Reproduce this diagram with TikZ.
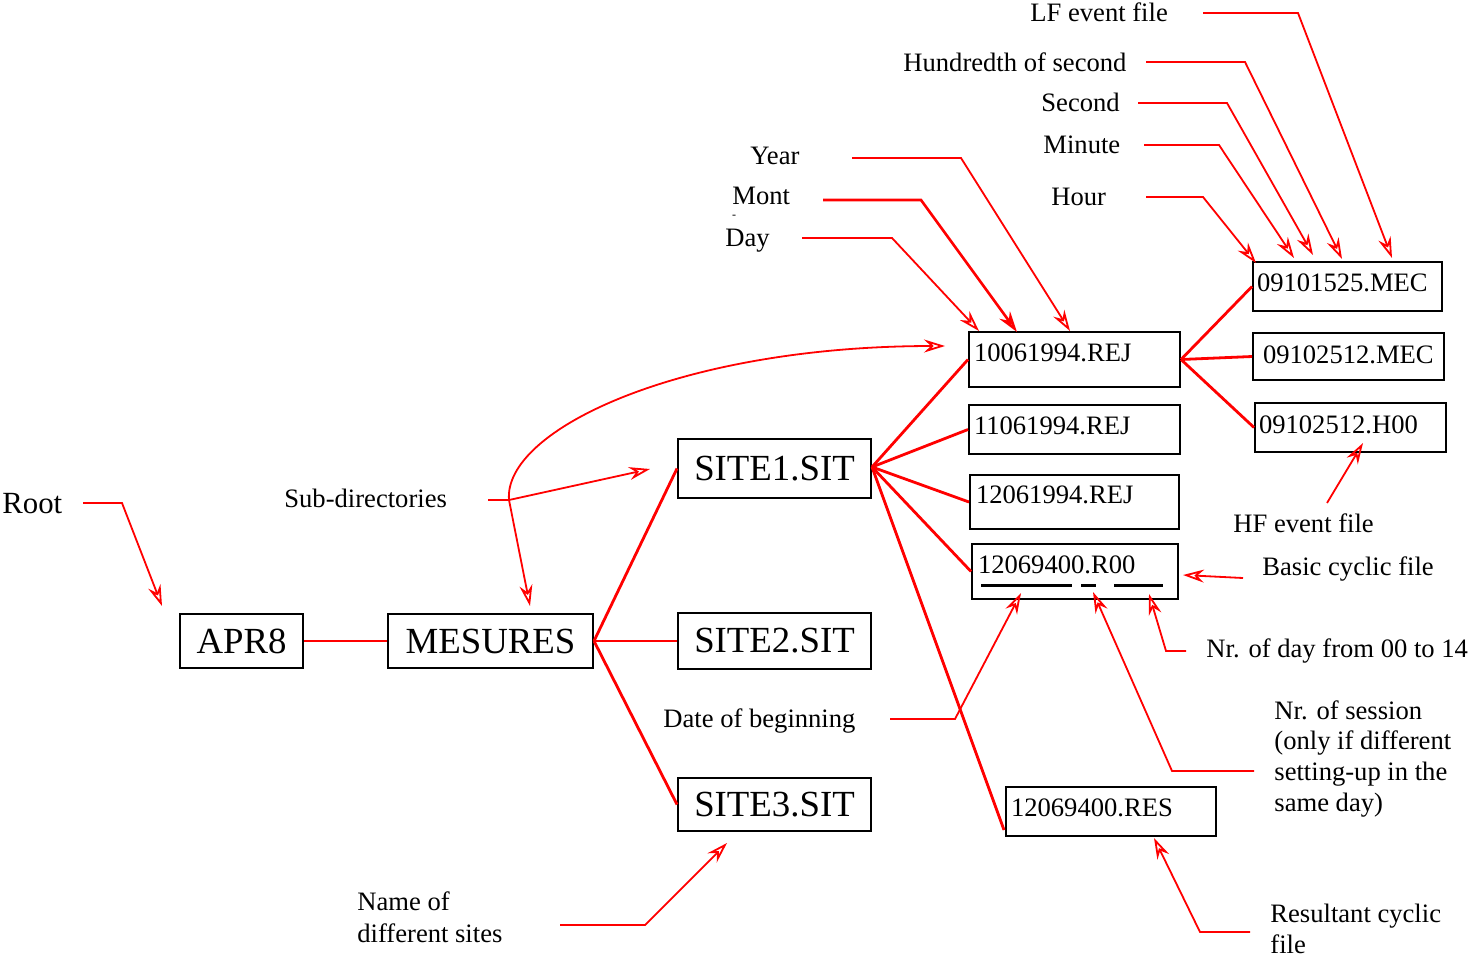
\documentclass[tikz,border=0pt]{standalone}
\usepackage{fontspec}
\setmainfont{Liberation Serif}
\usetikzlibrary{arrows.meta,calc}
\begin{document}
\begin{tikzpicture}[x=0.5pt,y=-0.5pt,
  lab/.style={anchor=base west, inner sep=0pt, align=left, font=\fontsize{13.3}{15.3}\selectfont},
  bigbox/.style={draw=black, line width=1pt, inner sep=0pt, minimum height=27pt, font=\fontsize{18.4}{21}\selectfont},
  fbox/.style={draw=black, line width=1pt, inner ysep=0pt, anchor=north west, align=left, font=\fontsize{13.3}{15.3}\selectfont},
  tree/.style={draw=red, line width=1.4pt},
  note/.style={draw=red, line width=0.9pt, -{Stealth[open,length=10.5pt,width=6.5pt,inset=3.5pt]}},
  noline/.style={draw=red, line width=0.9pt},
  uline/.style={draw=black, line width=1.5pt}]
\useasboundingbox (0,0) rectangle (1470,959);

% main boxes
\node[bigbox, minimum width=61.5pt] (apr) at (241.5,641) {APR8};
\node[bigbox, minimum width=102.5pt] (mes) at (490.5,641) {MESURES};
\node[bigbox, minimum width=96.5pt, minimum height=29.5pt] (s1) at (774.5,468.5) {SITE1.SIT};
\node[bigbox, minimum width=96.5pt, minimum height=28pt] (s2) at (774.5,641) {SITE2.SIT};
\node[bigbox, minimum width=96.5pt, minimum height=26.5pt] (s3) at (774.5,804.5) {SITE3.SIT};

% file boxes
\node[fbox, inner xsep=2.5pt, text width=100.5pt, text height=14.5pt, text depth=13pt] (f1) at (968,331) {10061994.REJ};
\node[fbox, inner xsep=2.5pt, text width=100.5pt, text height=14.5pt, text depth=10pt] (f2) at (968,404) {11061994.REJ};
\node[fbox, inner xsep=3pt, text width=98.5pt, text height=14pt, text depth=13pt] (f3) at (969,474) {12061994.REJ};
\node[fbox, inner xsep=3pt, text width=97pt, text height=14.5pt, text depth=13pt] (f4) at (971,543) {12069400.R00};
\node[fbox, inner xsep=2.5pt, text width=100pt, text height=14.5pt, text depth=10pt] (res) at (1005,786) {12069400.RES};
\node[fbox, inner xsep=2pt, text width=90.5pt, text height=14.5pt, text depth=10pt] (g1) at (1252,261) {09101525.MEC};
\node[fbox, inner xsep=5pt, text width=85.5pt, text height=15pt, text depth=8.5pt] (g2) at (1252,332) {09102512.MEC};
\node[fbox, inner xsep=2pt, text width=91.5pt, text height=15pt, text depth=9.5pt] (g3) at (1254,402) {09102512.H00};

% underlines in 12069400.R00
\coordinate (u1a) at (981,585); \coordinate (u1b) at (1072,585);
\coordinate (u2a) at (1081,585); \coordinate (u2b) at (1096,585);
\coordinate (u3a) at (1114,585); \coordinate (u3b) at (1163,585);
\draw[uline] (u1a) -- (u1b);
\draw[uline] (u2a) -- (u2b);
\draw[uline] (u3a) -- (u3b);

% tree connectors
\draw[tree] (apr.east) -- (mes.west);
\draw[tree] (mes.east) -- (s1.west);
\draw[tree] (mes.east) -- (s2.west);
\draw[tree] (mes.east) -- (s3.west);
\coordinate (s1e) at (872,467);
\draw[tree] (s1e) -- (f1.west);
\draw[tree] (s1e) -- (f2.west);
\draw[tree] (s1e) -- (f3.west);
\draw[tree] (s1e) -- (f4.west);
\draw[tree] (s1e) -- ($(res.south west)+(-1,-7)$);
\draw[tree] (f1.east) -- (g1.west);
\draw[tree] (f1.east) -- (g2.west);
\draw[tree] (f1.east) -- (g3.west);

% labels
\node[lab, font=\fontsize{15.4}{18}\selectfont] (root) at (2,513) {Root};
\node[lab] (sub) at (284,507) {Sub-directories};
\node[lab] (year) at (750,164) {Year};
\node[lab] (mont) at (732,204) {Mont};
\node[inner sep=0pt, font=\fontsize{6}{6}\selectfont] (dash) at (734,217) {-};
\node[lab] (day) at (725,246) {Day};
\node[lab] (lf) at (1030,21) {LF event file};
\node[lab] (hun) at (903,71) {Hundredth of second};
\node[lab] (sec) at (1041,111) {Second};
\node[lab] (min) at (1043,153) {Minute};
\node[lab] (hour) at (1051,205) {Hour};
\node[lab] (hf) at (1233,532) {HF event file};
\node[lab] (basic) at (1262,575) {Basic cyclic file};
\node[lab] (nrday) at (1206,657) {Nr. of day from 00 to 14};
\node[lab] (nrses) at (1274,811) {Nr. of session\\(only if different\\setting-up in the\\same day)};
\node[lab] (date) at (663,727) {Date of beginning};
\node[lab, font=\fontsize{13.3}{15.5}\selectfont] (resl) at (1270,953) {Resultant cyclic\\file};
\node[lab, font=\fontsize{13.3}{16}\selectfont] (name) at (357,942) {Name of\\different sites};

% annotation connectors
\coordinate (r0) at (83,503); \coordinate (r1) at (122,503); \coordinate (r2) at (162,606);
\draw[note] (r0) -- (r1) -- (r2);

\coordinate (sd0) at (488,500); \coordinate (sd1) at (509,500);
\coordinate (sd2) at (650,469); \coordinate (sd3) at (530,606); \coordinate (sd4) at (945,346);
\draw[noline] (sd0) -- (sd1);
\draw[note] (sd1) -- (sd2);
\draw[note] (sd1) -- (sd3);
\draw[note] (sd1) .. controls (503,430) and (680,346) .. (sd4);

\coordinate (y0) at (852,158); \coordinate (y1) at (961,158); \coordinate (y2) at (1070,331);
\draw[note] (y0) -- (y1) -- (y2);
\coordinate (m0) at (823,200); \coordinate (m1) at (921,200); \coordinate (m2) at (1017,332);
\draw[note, line width=1.3pt] (m0) -- (m1) -- (m2);
\coordinate (d0) at (802,238); \coordinate (d1) at (892,238); \coordinate (d2) at (979,331);
\draw[note] (d0) -- (d1) -- (d2);

\coordinate (lf0) at (1203,13); \coordinate (lf1) at (1298,13); \coordinate (lf2) at (1392,258);
\draw[note] (lf0) -- (lf1) -- (lf2);
\coordinate (h0) at (1146,62); \coordinate (h1) at (1245,62); \coordinate (h2) at (1342,259);
\draw[note] (h0) -- (h1) -- (h2);
\coordinate (se0) at (1138,103); \coordinate (se1) at (1227,103); \coordinate (se2) at (1313,255);
\draw[note] (se0) -- (se1) -- (se2);
\coordinate (mi0) at (1144,145); \coordinate (mi1) at (1219,145); \coordinate (mi2) at (1294,258);
\draw[note] (mi0) -- (mi1) -- (mi2);
\coordinate (ho0) at (1146,197); \coordinate (ho1) at (1203,197); \coordinate (ho2) at (1256,263);
\draw[note] (ho0) -- (ho1) -- (ho2);

\coordinate (hf0) at (1327,503); \coordinate (hf1) at (1363,443);
\draw[note] (hf0) -- (hf1);
\coordinate (b0) at (1243,578); \coordinate (b1) at (1183,575);
\draw[note] (b0) -- (b1);
\coordinate (nd0) at (1186,651); \coordinate (nd1) at (1166,651); \coordinate (nd2) at (1149,594);
\draw[note] (nd0) -- (nd1) -- (nd2);
\coordinate (ns0) at (1254,771); \coordinate (ns1) at (1172,771); \coordinate (ns2) at (1093,592);
\draw[note] (ns0) -- (ns1) -- (ns2);
\coordinate (db0) at (890,719); \coordinate (db1) at (955,719); \coordinate (db2) at (1021,593);
\draw[note] (db0) -- (db1) -- (db2);
\coordinate (rc0) at (1250,932); \coordinate (rc1) at (1200,932); \coordinate (rc2) at (1154,838);
\draw[note] (rc0) -- (rc1) -- (rc2);
\coordinate (nm0) at (560,925); \coordinate (nm1) at (645,925); \coordinate (nm2) at (727,843);
\draw[note] (nm0) -- (nm1) -- (nm2);
\end{tikzpicture}
\end{document}
